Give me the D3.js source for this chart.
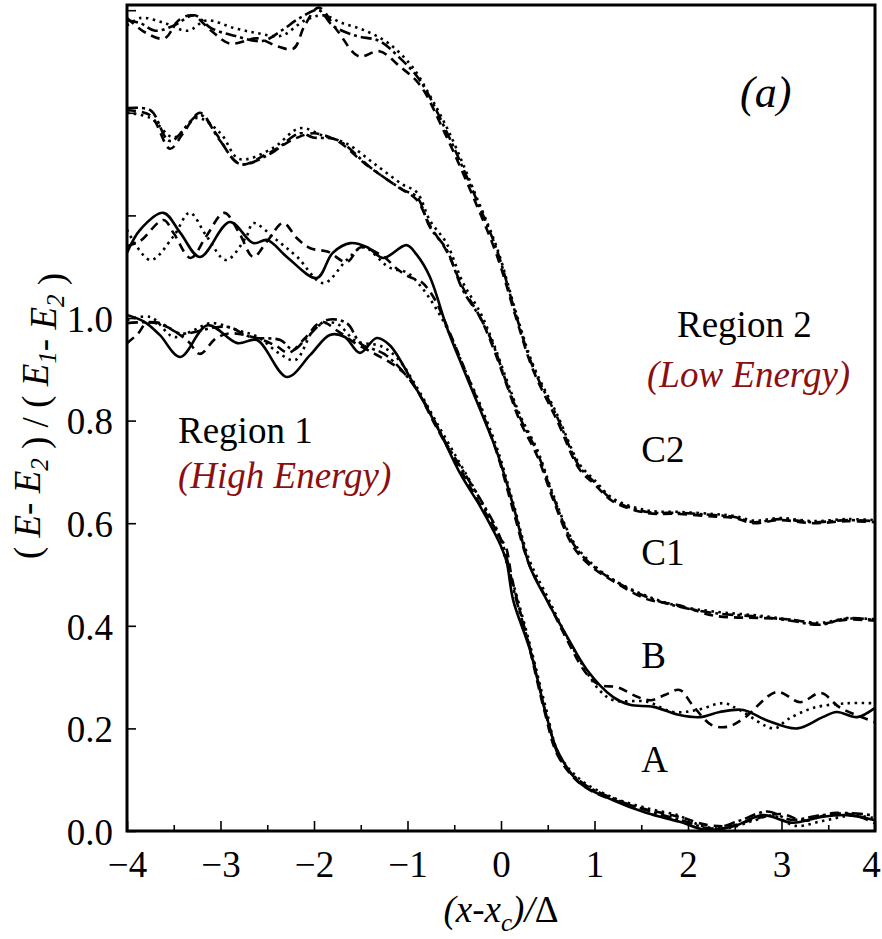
<!DOCTYPE html>
<html>
<head>
<meta charset="utf-8">
<script src="https://cdn.jsdelivr.net/npm/d3@7"></script>
<style>
  html, body { margin: 0; padding: 0; background: #fff; }
  svg { display: block; }
  text { font-family: "Liberation Serif", "Times New Roman", serif; }
</style>
</head>
<body>
<svg id="chart" width="882" height="939"></svg>
<script>
// Curve A: four line styles
const aSolid = [[-4,1.006],[-3.81,0.992],[-3.65,0.967],[-3.43,0.924],[-3.14,0.986],[-2.82,0.951],[-2.61,0.957],[-2.29,0.885],[-2.04,0.928],[-1.83,0.967],[-1.67,0.963],[-1.51,0.932],[-1.33,0.961],[-1.19,0.947],[-0.94,0.873],[-0.65,0.776],[-0.44,0.698],[-0.22,0.632],[-0.08,0.585],[0.0,0.555],[0.06,0.525],[0.13,0.45],[0.31,0.353],[0.49,0.222],[0.60,0.158],[0.84,0.094],[1.2,0.06],[1.56,0.035],[1.91,0.018],[2.2,0.002],[2.5,0.01],[2.8,0.031],[3.12,0.016],[3.41,0.027],[3.7,0.031],[4.0,0.021]];
const aDashed = [[-4,0.951],[-3.88,0.97],[-3.79,0.99],[-3.6,0.985],[-3.35,0.955],[-3.22,0.93],[-3.05,0.96],[-2.9,0.97],[-2.6,0.96],[-2.4,0.945],[-2.27,0.932],[-2.1,0.96],[-1.92,0.992],[-1.75,0.975],[-1.55,0.95],[-1.35,0.93],[-1.2,0.915],[-1.05,0.895],[-0.9,0.86],[-0.7,0.79],[-0.45,0.71],[-0.25,0.645],[-0.08,0.595],[0.0,0.568],[0.05,0.555],[0.12,0.49],[0.3,0.36],[0.47,0.23],[0.6,0.15],[0.8,0.1],[1.0,0.075],[1.3,0.055],[1.6,0.04],[1.9,0.028],[2.2,0.012],[2.45,0.01],[2.75,0.025],[3.0,0.033],[3.25,0.02],[3.55,0.035],[3.8,0.03],[4.0,0.015]];
const aDotted = [[-4,0.996],[-3.75,1.002],[-3.5,0.963],[-3.3,0.975],[-3.1,0.99],[-2.8,0.975],[-2.6,0.963],[-2.38,0.932],[-2.2,0.918],[-1.98,0.982],[-1.77,0.99],[-1.55,0.955],[-1.28,0.945],[-1.1,0.92],[-0.9,0.865],[-0.7,0.8],[-0.45,0.72],[-0.25,0.655],[-0.05,0.58],[0.1,0.5],[0.3,0.37],[0.48,0.24],[0.62,0.15],[0.85,0.1],[1.2,0.065],[1.55,0.045],[1.9,0.03],[2.15,0.01],[2.4,0.005],[2.7,0.02],[2.9,0.03],[3.15,0.01],[3.45,0.02],[3.75,0.03],[4.0,0.025]];
const aDashDot = [[-4,0.99],[-3.65,0.99],[-3.43,0.97],[-3.05,0.982],[-2.9,0.982],[-2.68,0.963],[-2.36,0.957],[-2.22,0.938],[-2.07,0.963],[-1.86,0.996],[-1.65,0.99],[-1.5,0.95],[-1.25,0.93],[-1.0,0.885],[-0.8,0.83],[-0.6,0.76],[-0.4,0.7],[-0.2,0.64],[-0.05,0.59],[0.05,0.54],[0.15,0.46],[0.32,0.35],[0.5,0.215],[0.65,0.135],[0.9,0.09],[1.25,0.06],[1.6,0.038],[1.95,0.02],[2.25,0.005],[2.55,0.02],[2.85,0.038],[3.1,0.022],[3.4,0.03],[3.7,0.035],[4.0,0.03]];

// Curve B: three line styles
const bSolid = [[-4,1.127],[-3.86,1.172],[-3.61,1.205],[-3.43,1.166],[-3.22,1.119],[-2.9,1.187],[-2.65,1.146],[-2.5,1.152],[-2.29,1.119],[-1.97,1.078],[-1.8,1.127],[-1.61,1.146],[-1.43,1.138],[-1.26,1.117],[-1.01,1.142],[-0.9,1.123],[-0.76,1.08],[-0.58,0.982],[-0.41,0.904],[-0.22,0.82],[-0.04,0.737],[0.13,0.635],[0.31,0.515],[0.49,0.45],[0.71,0.378],[0.92,0.314],[1.2,0.261],[1.38,0.246],[1.63,0.242],[1.91,0.226],[2.13,0.222],[2.34,0.232],[2.59,0.236],[2.84,0.216],[3.17,0.2],[3.44,0.222],[3.59,0.232],[3.81,0.222],[4.0,0.24]];
const bDashed = [[-4,1.14],[-3.86,1.15],[-3.61,1.191],[-3.5,1.165],[-3.32,1.117],[-3.15,1.16],[-2.96,1.205],[-2.8,1.166],[-2.65,1.119],[-2.5,1.15],[-2.33,1.185],[-2.18,1.155],[-2.04,1.136],[-1.85,1.129],[-1.65,1.109],[-1.5,1.138],[-1.26,1.12],[-1.1,1.094],[-0.98,1.08],[-0.85,1.07],[-0.72,1.04],[-0.58,0.985],[-0.41,0.91],[-0.22,0.825],[-0.04,0.735],[0.13,0.625],[0.3,0.52],[0.5,0.448],[0.7,0.375],[0.9,0.31],[1.05,0.285],[1.25,0.28],[1.45,0.262],[1.6,0.255],[1.75,0.265],[1.91,0.275],[2.05,0.245],[2.25,0.207],[2.42,0.203],[2.6,0.22],[2.95,0.271],[3.2,0.251],[3.42,0.269],[3.63,0.24],[4.0,0.212]];
const bDotted = [[-4,1.172],[-3.75,1.113],[-3.5,1.16],[-3.33,1.205],[-3.15,1.16],[-2.94,1.113],[-2.72,1.16],[-2.65,1.185],[-2.4,1.152],[-2.18,1.119],[-1.9,1.068],[-1.65,1.113],[-1.47,1.138],[-1.2,1.099],[-1.0,1.088],[-0.85,1.06],[-0.7,1.02],[-0.55,0.97],[-0.4,0.905],[-0.22,0.83],[-0.04,0.745],[0.13,0.64],[0.3,0.53],[0.5,0.455],[0.7,0.38],[0.9,0.315],[1.05,0.275],[1.2,0.255],[1.56,0.252],[1.84,0.232],[2.1,0.236],[2.38,0.249],[2.56,0.235],[2.92,0.2],[3.07,0.218],[3.34,0.24],[3.7,0.249],[4.0,0.249]];

// Curve C1: three line styles
const c1DashDot = [[-4,1.409],[-3.75,1.405],[-3.54,1.345],[-3.22,1.396],[-3.01,1.347],[-2.79,1.3],[-2.47,1.32],[-2.15,1.36],[-2.01,1.352],[-1.75,1.347],[-1.4,1.294],[-1.05,1.25],[-0.9,1.236],[-0.76,1.177],[-0.58,1.133],[-0.41,1.055],[-0.22,1.0],[-0.09,0.951],[0.06,0.873],[0.2,0.807],[0.39,0.737],[0.56,0.651],[0.77,0.561],[0.95,0.522],[1.2,0.489],[1.56,0.456],[1.91,0.437],[2.27,0.425],[2.8,0.417],[3.1,0.41],[3.41,0.402],[3.7,0.415],[4.0,0.411]];
const c1Dashed = [[-4,1.405],[-3.75,1.395],[-3.54,1.33],[-3.4,1.36],[-3.22,1.4],[-3.05,1.36],[-2.79,1.3],[-2.5,1.32],[-2.2,1.35],[-2.0,1.36],[-1.75,1.345],[-1.45,1.3],[-1.1,1.255],[-0.9,1.23],[-0.76,1.18],[-0.58,1.13],[-0.41,1.06],[-0.22,1.0],[-0.09,0.945],[0.06,0.87],[0.2,0.8],[0.39,0.73],[0.56,0.645],[0.77,0.555],[0.95,0.518],[1.2,0.487],[1.56,0.452],[1.91,0.44],[2.27,0.42],[2.8,0.415],[3.1,0.412],[3.41,0.404],[3.7,0.412],[4.0,0.41]];
const c1Dotted = [[-4,1.4],[-3.75,1.39],[-3.5,1.352],[-3.25,1.39],[-3.0,1.36],[-2.8,1.31],[-2.45,1.33],[-2.15,1.37],[-1.9,1.355],[-1.65,1.34],[-1.35,1.3],[-1.05,1.26],[-0.9,1.245],[-0.76,1.19],[-0.58,1.145],[-0.41,1.07],[-0.22,1.01],[-0.09,0.955],[0.06,0.88],[0.2,0.812],[0.39,0.742],[0.56,0.655],[0.77,0.565],[0.95,0.525],[1.2,0.49],[1.56,0.458],[1.91,0.438],[2.27,0.428],[2.8,0.419],[3.1,0.412],[3.41,0.406],[3.7,0.414],[4.0,0.413]];

// Curve C2: three line styles
const c2DashDot = [[-4,1.58],[-3.86,1.575],[-3.7,1.56],[-3.5,1.57],[-3.28,1.59],[-3.1,1.565],[-2.85,1.55],[-2.55,1.54],[-2.35,1.56],[-2.15,1.585],[-1.95,1.6],[-1.8,1.57],[-1.55,1.55],[-1.3,1.54],[-1.1,1.51],[-0.87,1.464],[-0.6,1.37],[-0.26,1.23],[-0.04,1.13],[0.17,1.0],[0.34,0.905],[0.6,0.807],[0.84,0.71],[1.0,0.68],[1.2,0.645],[1.56,0.622],[1.91,0.62],[2.27,0.616],[2.5,0.612],[2.7,0.602],[2.98,0.608],[3.34,0.602],[3.7,0.606],[4.0,0.604]];
const c2Dashed = [[-4,1.585],[-3.8,1.556],[-3.6,1.545],[-3.45,1.58],[-3.3,1.59],[-3.1,1.56],[-2.9,1.535],[-2.6,1.545],[-2.4,1.53],[-2.22,1.525],[-2.1,1.57],[-1.95,1.605],[-1.75,1.56],[-1.52,1.51],[-1.3,1.52],[-1.08,1.49],[-0.87,1.455],[-0.6,1.36],[-0.26,1.22],[-0.04,1.12],[0.17,0.995],[0.34,0.9],[0.6,0.8],[0.84,0.705],[1.0,0.676],[1.2,0.642],[1.56,0.62],[1.91,0.618],[2.27,0.613],[2.5,0.61],[2.7,0.6],[2.98,0.606],[3.34,0.6],[3.7,0.604],[4.0,0.602]];
const c2Dotted = [[-4,1.57],[-3.85,1.585],[-3.6,1.575],[-3.35,1.56],[-3.15,1.58],[-2.85,1.565],[-2.6,1.555],[-2.35,1.55],[-2.1,1.58],[-1.9,1.59],[-1.7,1.575],[-1.45,1.56],[-1.2,1.535],[-0.95,1.49],[-0.75,1.43],[-0.55,1.36],[-0.26,1.235],[-0.04,1.135],[0.17,1.005],[0.34,0.91],[0.6,0.812],[0.84,0.715],[1.0,0.684],[1.2,0.648],[1.56,0.625],[1.91,0.622],[2.27,0.618],[2.5,0.614],[2.7,0.605],[2.98,0.61],[3.34,0.604],[3.7,0.608],[4.0,0.606]];

// Axis ticks and labels
const xTicks = [-4, -3, -2, -1, 0, 1, 2, 3, 4];
const xMinorTicks = [-3.5, -2.5, -1.5, -0.5, 0.5, 1.5, 2.5, 3.5];
const yTicks = [0, 0.2, 0.4, 0.6, 0.8, 1.0, 1.2, 1.4, 1.6];
const yTickLabels = ["0.0", "0.2", "0.4", "0.6", "0.8", "1.0"];

// Curve labels at the right side
const curveLabels = [
  { name: "C2", x: 1.5, y: 0.72 },
  { name: "C1", x: 1.5, y: 0.518 },
  { name: "B",  x: 1.5, y: 0.318 },
  { name: "A",  x: 1.5, y: 0.115 }
];

const styles = {
  solid:   null,
  dashed:  "9,6",
  dotted:  "2.5,4.5",
  dashdot: "11,4,3,4"
};

const series = [
  { data: aDashDot, style: "dashdot" },
  { data: aDotted,  style: "dotted" },
  { data: aDashed,  style: "dashed" },
  { data: aSolid,   style: "solid" },
  { data: bDotted,  style: "dotted" },
  { data: bDashed,  style: "dashed" },
  { data: bSolid,   style: "solid" },
  { data: c1Dotted, style: "dotted" },
  { data: c1Dashed, style: "dashed" },
  { data: c1DashDot, style: "dashdot" },
  { data: c2Dotted, style: "dotted" },
  { data: c2Dashed, style: "dashed" },
  { data: c2DashDot, style: "dashdot" }
];

const FS = 37;
const svg = d3.select("#chart");
const plotLeft = 127, plotRight = 875, plotTop = 5, plotBottom = 831;

const x = d3.scaleLinear().domain([-4, 4]).range([plotLeft, plotRight]);
const yMax = (plotBottom - plotTop) / 513;
const y = d3.scaleLinear().domain([0, yMax]).range([plotBottom, plotTop]);

svg.append("clipPath").attr("id", "plotclip")
  .append("rect").attr("x", plotLeft).attr("y", plotTop)
  .attr("width", plotRight - plotLeft).attr("height", plotBottom - plotTop);

const line = d3.line()
  .x(d => x(d[0]))
  .y(d => y(d[1]))
  .curve(d3.curveCatmullRom.alpha(0.5));

const g = svg.append("g").attr("clip-path", "url(#plotclip)");
series.forEach(s => {
  g.append("path")
    .attr("d", line(s.data))
    .attr("fill", "none")
    .attr("stroke", "#000")
    .attr("stroke-width", 2.6)
    .attr("stroke-linejoin", "round")
    .attr("stroke-dasharray", styles[s.style]);
});

// Bottom axis: inward ticks
const xAxis = d3.axisBottom(x).tickValues(xTicks).tickSize(-10).tickPadding(20)
  .tickFormat(d => d < 0 ? "\u2212" + Math.abs(d) : String(d));
const gx = svg.append("g").attr("transform", `translate(0,${plotBottom})`).call(xAxis);
gx.select(".domain").remove();
gx.selectAll(".tick line").attr("stroke", "#000").attr("stroke-width", 1.6);
gx.selectAll(".tick text").attr("font-size", FS).attr("fill", "#000")
  .attr("font-family", "Liberation Serif, serif")
  .attr("dx", d => d === 4 ? -4 : 0);

const xMinor = d3.axisBottom(x).tickValues(xMinorTicks).tickSize(-6).tickFormat("");
const gxm = svg.append("g").attr("transform", `translate(0,${plotBottom})`).call(xMinor);
gxm.select(".domain").remove();
gxm.selectAll(".tick line").attr("stroke", "#000").attr("stroke-width", 1.6);

// Left axis: inward ticks, labels only up to 1.0
const yAxis = d3.axisLeft(y).tickValues(yTicks).tickSize(-9).tickPadding(14)
  .tickFormat(d => { const s = d3.format(".1f")(d); return yTickLabels.includes(s) ? s : ""; });
const gy = svg.append("g").attr("transform", `translate(${plotLeft},0)`).call(yAxis);
gy.select(".domain").remove();
gy.selectAll(".tick line").attr("stroke", "#000").attr("stroke-width", 1.6);
gy.selectAll(".tick text").attr("font-size", FS).attr("fill", "#000")
  .attr("font-family", "Liberation Serif, serif").attr("dy", "0.36em");

// Frame
svg.append("rect")
  .attr("x", plotLeft).attr("y", plotTop)
  .attr("width", plotRight - plotLeft).attr("height", plotBottom - plotTop)
  .attr("fill", "none").attr("stroke", "#000").attr("stroke-width", 3);

// Curve labels
svg.selectAll("text.clabel").data(curveLabels).enter().append("text")
  .attr("class", "clabel")
  .attr("x", d => x(d.x))
  .attr("y", d => y(d.y))
  .attr("font-size", FS)
  .attr("fill", "#000")
  .text(d => d.name);

// Region annotations
const darkRed = "#8b0f0f";
svg.append("text").attr("x", 677).attr("y", 337).attr("font-size", FS).text("Region 2");
svg.append("text").attr("x", 647).attr("y", 387).attr("font-size", FS)
  .attr("font-style", "italic").attr("fill", darkRed).text("(Low Energy)");
svg.append("text").attr("x", 178).attr("y", 443).attr("font-size", FS).text("Region 1");
svg.append("text").attr("x", 178).attr("y", 488).attr("font-size", FS)
  .attr("font-style", "italic").attr("fill", darkRed).text("(High Energy)");
svg.append("text").attr("x", 740).attr("y", 107).attr("font-size", 44)
  .attr("font-style", "italic").text("(a)");

// X axis title
const xt = svg.append("text").attr("x", 501).attr("y", 922)
  .attr("text-anchor", "middle").attr("font-size", FS).attr("font-style", "italic");
xt.append("tspan").text("(x-x");
xt.append("tspan").attr("font-size", 25).attr("dy", 9).text("c");
xt.append("tspan").attr("dy", -9).text(")/");
xt.append("tspan").attr("font-style", "normal").text("\u0394");

// Y axis title
const yt = svg.append("text")
  .attr("transform", "translate(40,416) rotate(-90)")
  .attr("text-anchor", "middle").attr("font-size", FS);
const seg = (t, it) => yt.append("tspan").attr("font-style", it ? "italic" : "normal").text(t);
const sub = (t) => {
  yt.append("tspan").attr("font-style", "italic").attr("font-size", 25).attr("dy", 8).text(t);
  yt.append("tspan").attr("dy", -8).text("");
};
seg("( ", false); seg("E", true); seg("- ", false); seg("E", true); sub("2");
seg(" ) / ( ", false); seg("E", true); sub("1"); seg("- ", false); seg("E", true); sub("2");
seg(" )", false);
</script>
</body>
</html>
